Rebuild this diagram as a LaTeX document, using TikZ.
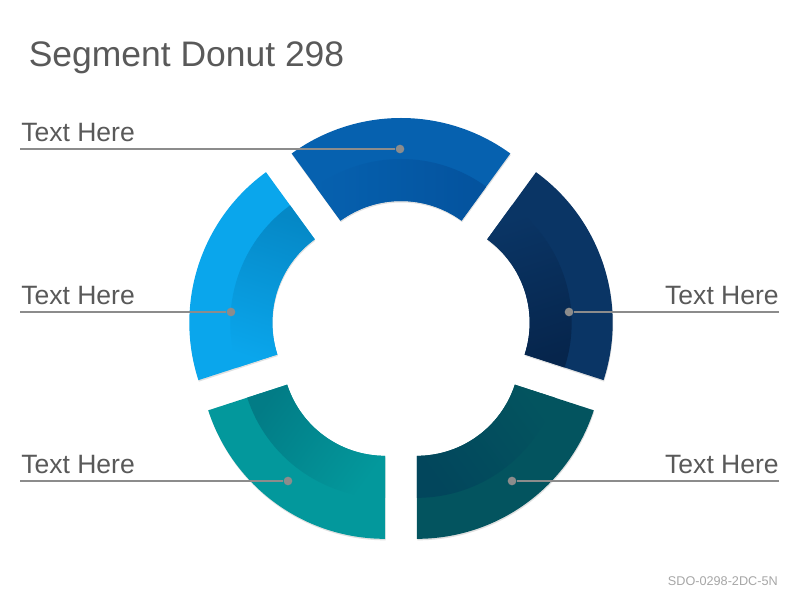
\documentclass[tikz,border=0pt]{standalone}
\usepackage{fontspec}
\setmainfont{Liberation Sans}
\definecolor{topblue}{RGB}{6,97,175}
\definecolor{topshade}{RGB}{4,82,157}
\definecolor{leftblue}{RGB}{10,166,236}
\definecolor{leftshade}{RGB}{5,136,198}
\definecolor{rightblue}{RGB}{10,53,101}
\definecolor{rightshade}{RGB}{6,37,76}
\definecolor{lowleftteal}{RGB}{3,152,156}
\definecolor{lowleftshade}{RGB}{2,124,134}
\definecolor{lowrightteal}{RGB}{3,84,95}
\definecolor{lowrightshade}{RGB}{2,70,92}
\definecolor{leadgray}{RGB}{140,140,140}
\definecolor{textgray}{RGB}{89,89,89}
\definecolor{codegray}{RGB}{166,166,166}
\begin{document}
\begin{tikzpicture}[x=0.75pt,y=0.75pt,
    shadowpart/.style={fill=black,opacity=0.12,shift={(0.5,-1.5)}},
    leader/.style={leadgray,line width=2.2pt},
    dot/.style={circle,fill=leadgray,inner sep=0pt,minimum size=6.5pt},
    lbl/.style={text=textgray,inner sep=0pt,font=\fontsize{19.9}{22}\selectfont}]
  \useasboundingbox (0,0) rectangle (800,600);
  \node[anchor=base west,text=textgray,inner sep=0pt,font=\fontsize{26.6}{30}\selectfont] (title) at (28.5,533) {Segment Donut 298};
  \node[anchor=base east,text=codegray,inner sep=0pt,font=\fontsize{9.5}{11}\selectfont] (code) at (778,15) {SDO-0298-2DC-5N};
  % donut segments
  \begin{scope}[shift={(401,269)}]
    \fill[shadowpart,shift={(90:27)}] (54:186) arc[start angle=54,end angle=126,radius=186] -- (126:103) arc[start angle=126,end angle=54,radius=103] -- cycle;
    \fill[shadowpart,shift={(162:27)}] (126:186) arc[start angle=126,end angle=198,radius=186] -- (198:103) arc[start angle=198,end angle=126,radius=103] -- cycle;
    \fill[shadowpart,shift={(234:27)}] (198:186) arc[start angle=198,end angle=270,radius=186] -- (270:103) arc[start angle=270,end angle=198,radius=103] -- cycle;
    \fill[shadowpart,shift={(306:27)}] (270:186) arc[start angle=270,end angle=342,radius=186] -- (342:103) arc[start angle=342,end angle=270,radius=103] -- cycle;
    \fill[shadowpart,shift={(18:27)}] (-18:186) arc[start angle=-18,end angle=54,radius=186] -- (54:103) arc[start angle=54,end angle=-18,radius=103] -- cycle;
    \fill[topblue,shift={(90:27)}] (54:186) arc[start angle=54,end angle=126,radius=186] -- (126:103) arc[start angle=126,end angle=54,radius=103] -- cycle;
    \fill[leftblue,shift={(162:27)}] (126:186) arc[start angle=126,end angle=198,radius=186] -- (198:103) arc[start angle=198,end angle=126,radius=103] -- cycle;
    \fill[lowleftteal,shift={(234:27)}] (198:186) arc[start angle=198,end angle=270,radius=186] -- (270:103) arc[start angle=270,end angle=198,radius=103] -- cycle;
    \fill[lowrightteal,shift={(306:27)}] (270:186) arc[start angle=270,end angle=342,radius=186] -- (342:103) arc[start angle=342,end angle=270,radius=103] -- cycle;
    \fill[rightblue,shift={(18:27)}] (-18:186) arc[start angle=-18,end angle=54,radius=186] -- (54:103) arc[start angle=54,end angle=-18,radius=103] -- cycle;
    % inner bands
    \shade[left color=topblue,right color=topshade,shading angle=90,shift={(90:27)}] (54:145) arc[start angle=54,end angle=126,radius=145] -- (126:103) arc[start angle=126,end angle=54,radius=103] -- cycle;
    \shade[left color=leftblue,right color=leftshade,shading angle=162,shift={(162:27)}] (126:145) arc[start angle=126,end angle=198,radius=145] -- (198:103) arc[start angle=198,end angle=126,radius=103] -- cycle;
    \shade[left color=lowleftteal,right color=lowleftshade,shading angle=234,shift={(234:27)}] (198:145) arc[start angle=198,end angle=270,radius=145] -- (270:103) arc[start angle=270,end angle=198,radius=103] -- cycle;
    \shade[left color=lowrightteal,right color=lowrightshade,shading angle=306,shift={(306:27)}] (270:145) arc[start angle=270,end angle=342,radius=145] -- (342:103) arc[start angle=342,end angle=270,radius=103] -- cycle;
    \shade[left color=rightblue,right color=rightshade,shading angle=18,shift={(18:27)}] (-18:145) arc[start angle=-18,end angle=54,radius=145] -- (54:103) arc[start angle=54,end angle=-18,radius=103] -- cycle;
  \end{scope}
  % labels
  \node[dot] (topdot) at (400,451) {};
  \node[dot] (leftdot) at (231,288) {};
  \node[dot] (lowleftdot) at (288,119) {};
  \node[dot] (rightdot) at (569,288) {};
  \node[dot] (lowrightdot) at (512,119) {};
  \coordinate (topend) at (20,451);
  \coordinate (leftend) at (20,288);
  \coordinate (lowleftend) at (20,119);
  \coordinate (rightend) at (779,288);
  \coordinate (lowrightend) at (779,119);
  \draw[leader] (topend) -- (topdot);
  \draw[leader] (leftend) -- (leftdot);
  \draw[leader] (lowleftend) -- (lowleftdot);
  \draw[leader] (rightend) -- (rightdot);
  \draw[leader] (lowrightend) -- (lowrightdot);
  \node[lbl,anchor=base west] (toptext) at (21,458) {Text Here};
  \node[lbl,anchor=base west] (lefttext) at (21,295) {Text Here};
  \node[lbl,anchor=base west] (lowlefttext) at (21,126) {Text Here};
  \node[lbl,anchor=base east] (righttext) at (779,295) {Text Here};
  \node[lbl,anchor=base east] (lowrighttext) at (779,126) {Text Here};
\end{tikzpicture}
\end{document}
